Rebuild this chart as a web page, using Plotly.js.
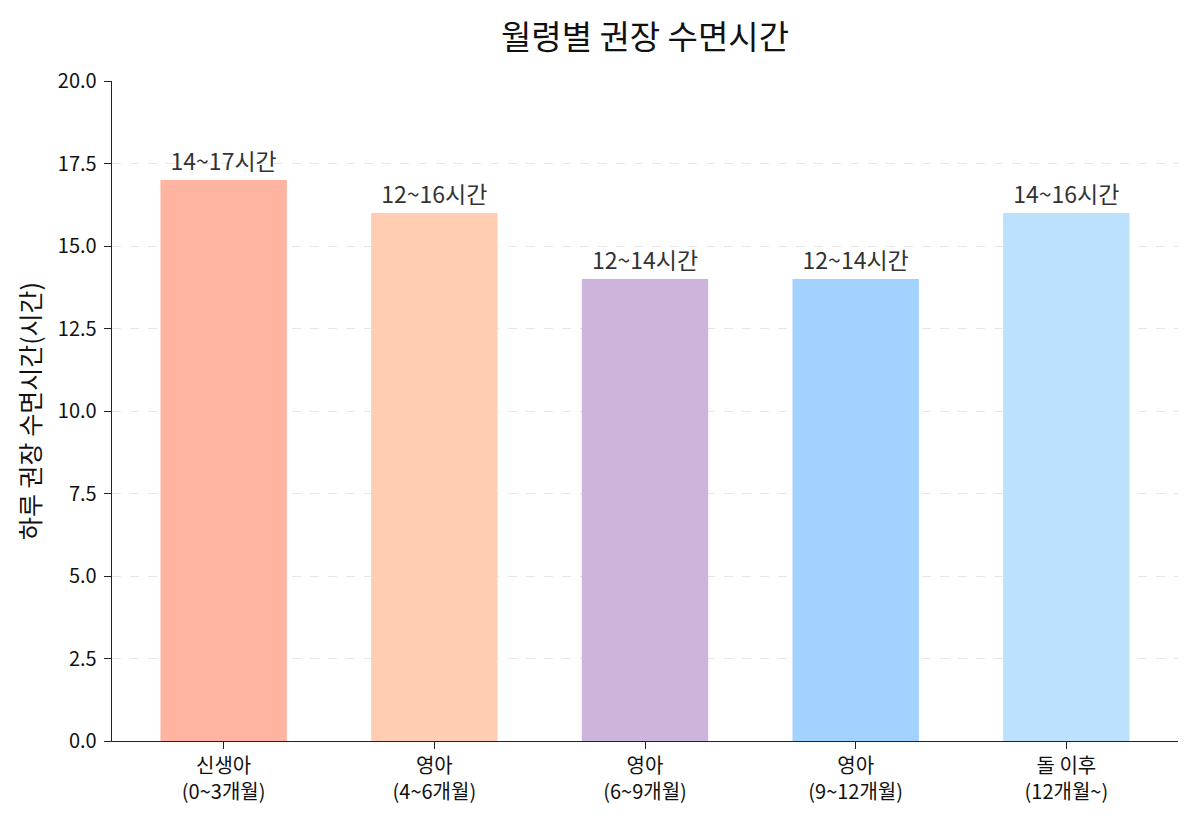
<!DOCTYPE html>
<html><head><meta charset="utf-8">
<script src="https://cdn.plot.ly/plotly-3.0.1.min.js"></script>
<style>body{margin:0;background:#fff}#c{width:1200px;height:825px}</style>
</head><body><div id="c"></div>
<script>
const categories = ["신생아<br>(0~3개월)", "영아<br>(4~6개월)", "영아<br>(6~9개월)", "영아<br>(9~12개월)", "돌 이후<br>(12개월~)"];
const sleepHours = [17, 16, 14, 14, 16];
const rangeLabels = ["14~17시간", "12~16시간", "12~14시간", "12~14시간", "14~16시간"];
const barColors = ["#FFB4A2", "#FFCDB2", "#CDB4DB", "#A2D2FF", "#BDE0FE"];
const yTicks = [0, 2.5, 5, 7.5, 10, 12.5, 15, 17.5, 20];

const font = "Noto Sans CJK KR, Noto Sans, sans-serif";
Plotly.newPlot("c", [{
  type: "bar",
  x: categories.map((c, i) => i),
  y: sleepHours,
  width: 0.6,
  marker: {color: barColors, line: {width: 0}},
  text: rangeLabels,
  textposition: "outside",
  textfont: {family: font, size: 23, color: "#333"},
  cliponaxis: false,
  hoverinfo: "none"
}], {
  width: 1200, height: 825,
  margin: {l: 112, r: 22, t: 81, b: 84},
  paper_bgcolor: "#fff", plot_bgcolor: "#fff",
  font: {family: font, color: "#222"},
  title: {text: "월령별 권장 수면시간", x: 0.5375, xanchor: "center", y: 0.955, yanchor: "middle",
          font: {family: font, size: 33, color: "#111"}},
  xaxis: {
    range: [-0.53, 4.53], tickvals: [0, 1, 2, 3, 4], ticktext: categories,
    showline: true, linecolor: "#222", linewidth: 1.3, ticks: "outside", ticklen: 7, tickcolor: "#222",
    showgrid: false, zeroline: false, tickfont: {family: font, size: 20, color: "#111"}
  },
  yaxis: {
    range: [0, 20], tickvals: yTicks, ticktext: yTicks.map(v => v.toFixed(1)),
    showline: true, linecolor: "#222", linewidth: 1.3, ticks: "outside", ticklen: 7, tickcolor: "#222",
    ticklabelstandoff: 3,
    showgrid: true, gridcolor: "#e6e6e6", griddash: "dash", gridwidth: 1, zeroline: false,
    tickfont: {family: font, size: 20, color: "#111"},
    title: {text: "하루 권장 수면시간(시간)", standoff: 10, font: {family: font, size: 25, color: "#111"}}
  },
  showlegend: false,
  bargap: 0.4
}, {displayModeBar: false, staticPlot: true});
</script></body></html>
